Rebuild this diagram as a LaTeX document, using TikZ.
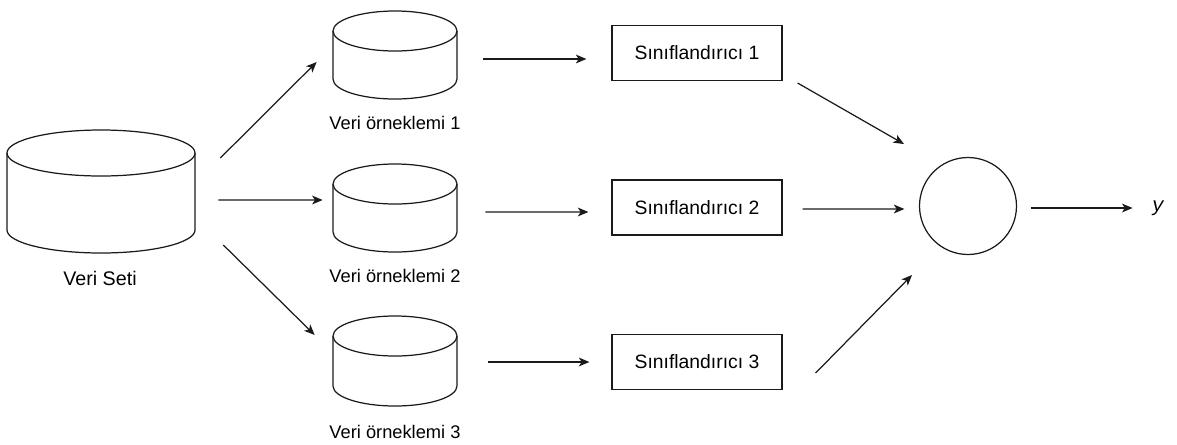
\documentclass[tikz,border=0pt]{standalone}
\usepackage{fontspec}
\setmainfont{Liberation Sans}
\newfontfamily\monofont{Liberation Mono}
\usetikzlibrary{arrows.meta,calc}
\definecolor{colLine}{HTML}{1A1A1A}
\def\setfont{\fontsize{11.2pt}{13pt}\selectfont}
\def\smpfont{\fontsize{10.4pt}{12pt}\selectfont}
\def\boxfont{\fontsize{11pt}{13pt}\selectfont}
\def\outfont{\fontsize{11.5pt}{13pt}\selectfont}
% #1 name, #2 cx, #3 cy (px, downwards), #4 rx, #5 half height, #6 ry
\newcommand{\dbcyl}[6]{%
  \node[inner sep=0pt, minimum width={#4*0.04cm}, minimum height={#5*0.04cm}] (#1) at (#2,-#3) {};%
  \draw[cylline] (#2,{-#3+#5-#6}) ellipse [x radius=#4, y radius=#6];%
  \draw[cylline] ({#2-#4},{-#3+#5-#6}) -- ({#2-#4},{-#3-#5+#6})
    arc [start angle=180, end angle=360, x radius=#4, y radius=#6]
    -- ({#2+#4},{-#3+#5-#6});}
\tikzset{
  cylline/.style={draw=colLine, line width=0.7pt},
  clsbox/.style={draw=colLine, line width=0.7pt, minimum width=3.4cm, minimum height=1.1cm, inner sep=0pt, font=\boxfont},
  vote/.style={circle, draw=colLine, line width=0.7pt, minimum size=1.94cm, inner sep=0pt},
  flow/.style={draw=colLine, line width=0.7pt, -{Stealth[length=6pt, width=5pt, inset=1.6pt]}},
}

\begin{document}
\begin{tikzpicture}[x=0.02cm, y=0.02cm]
\useasboundingbox (0,0) rectangle (1177,-444);

% ===================== DATA =====================
\dbcyl{vs}{101}{191.5}{94}{61.5}{23}
\node[font=\setfont, inner sep=0pt] (vsl) at (100,-278) {Veri Seti};

\dbcyl{s1}{395}{55}{62}{44}{20}
\dbcyl{s2}{395}{208}{62}{44}{20}
\dbcyl{s3}{395}{361}{62}{45}{20}
\node[font=\smpfont, inner sep=0pt] (s1l) at (395,-123) {Veri örneklemi 1};
\node[font=\smpfont, inner sep=0pt] (s2l) at (395,-276) {Veri örneklemi 2};
\node[font=\smpfont, inner sep=0pt] (s3l) at (395,-432) {Veri örneklemi 3};

% ===================== CLASSIFIERS =====================
\node[clsbox] (b1) at (697,-53)    {Sınıflandırıcı 1};
\node[clsbox] (b2) at (697,-207.5) {Sınıflandırıcı 2};
\node[clsbox] (b3) at (697,-362)   {Sınıflandırıcı 3};

\node[vote] (cr) at (968,-206) {};
\node[font=\outfont, inner sep=0pt] (yl) at (1158,-208) {\monofont\itshape y};

% ===================== ARROWS =====================
\draw[flow] ($(vs.east)+(25,33.5)$) -- ($(s1.west)+(-16,-7)$);
\draw[flow] ($(vs.east)+(23,-8.5)$) -- ($(s2.west)+(-10,8)$);
\draw[flow] ($(vs.east)+(28,-53.5)$) -- ($(s3.west)+(-18,26)$);

\draw[flow] ($(s1.east)+(26,-4)$) -- ($(b1.west)+(-25,-6)$);
\draw[flow] ($(s2.east)+(28,-4)$) -- ($(b2.west)+(-23,-4.5)$);
\draw[flow] ($(s3.east)+(31,-1)$) -- ($(b3.west)+(-22,0)$);

\draw[flow] ($(b1.east)+(15,-30)$) -- ($(cr.center)+(-64,62)$);
\draw[flow] ($(b2.east)+(20,-1.5)$) -- ($(cr.west)+(-14.5,-3)$);
\draw[flow] ($(b3.east)+(33,-11)$) -- ($(cr.center)+(-56,-69)$);

\draw[flow] ($(cr.east)+(13.5,-2)$) -- ($(yl.west)+(-19,0)$);

\end{tikzpicture}
\end{document}
